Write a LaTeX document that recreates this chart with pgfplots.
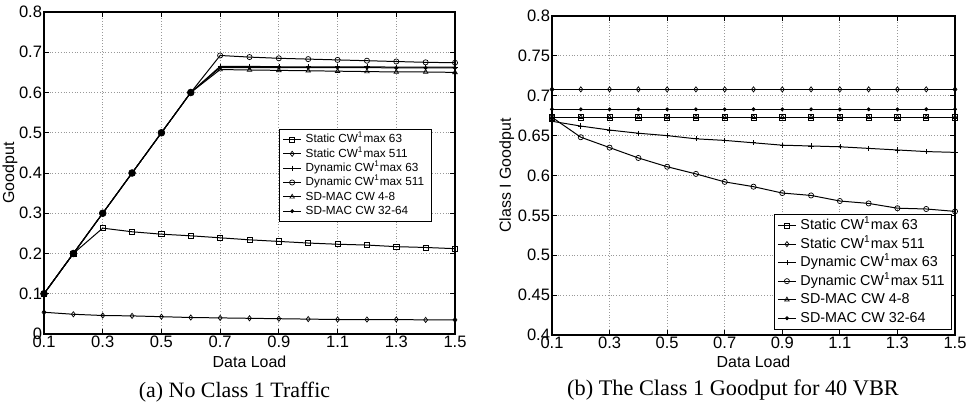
\documentclass[border=0pt]{standalone}
\usepackage{pgfplots}
\pgfplotsset{compat=1.18}
\usepackage{fontspec}
\setmainfont{Liberation Sans}
\newfontfamily\capfont{Liberation Serif}

\pgfplotsset{
  goodput/.style={
    scale only axis,
    xmin=0.1, xmax=1.5,
    xtick={0.1,0.3,0.5,0.7,0.9,1.1,1.3,1.5},
    xticklabels={0.1,0.3,0.5,0.7,0.9,1.1,1.3,1.5},
    grid=major,
    major grid style={densely dotted, gray!80, line width=0.4pt},
    tick align=inside,
    tick pos=both,
    major tick length=2.5pt,
    axis line style={line width=0.6pt},
    tick style={line width=0.4pt, black},
    ticklabel style={font=\fontsize{8.3}{9}\selectfont, inner sep=0.8pt},
    label style={font=\fontsize{8}{9}\selectfont},
    xlabel={Data Load},
    every axis plot/.append style={black, line width=0.5pt, mark size=1.3pt,
      mark options={solid, line width=0.35pt}},
    legend style={draw=black, fill=white, line width=0.5pt, inner sep=1.5pt},
    legend image code/.code={
      \draw[mark repeat=2, mark phase=2] plot coordinates {(0cm,0cm) (0.16cm,0cm) (0.32cm,0cm)};
    },
  }
}

\begin{document}
\begin{tikzpicture}
\path[use as bounding box] (-22bp,-35.5bp) rectangle (463.5bp,167bp);

% (a) ohne Klasse-1-Verkehr
\begin{axis}[
    goodput,
    at={(0,0)}, anchor=south west,
    width=205.5bp, height=161bp,
    ymin=0, ymax=0.8,
    ytick={0,0.1,0.2,0.3,0.4,0.5,0.6,0.7,0.8},
    yticklabels={0,0.1,0.2,0.3,0.4,0.5,0.6,0.7,0.8},
    ylabel={Goodput},
    ylabel style={at={(axis description cs:-0.083,0.5)}, anchor=center},
    xlabel style={at={(axis description cs:0.5,-0.087)}, anchor=center},
    legend style={at={(0.572,0.637)}, anchor=north west,
      font=\fontsize{5.9}{6}\selectfont, row sep=0.1pt,
      nodes={inner ysep=0.3pt, text height=5pt, text depth=1.5pt},
      cells={anchor=west}},
]
\addplot[mark=square] coordinates {
  (0.1,0.100) (0.2,0.200) (0.3,0.263) (0.4,0.254) (0.5,0.248) (0.6,0.244) (0.7,0.239) (0.8,0.234)
  (0.9,0.230) (1.0,0.226) (1.1,0.223) (1.2,0.221) (1.3,0.217) (1.4,0.215) (1.5,0.212)};
\addlegendentry{Static CW\textsuperscript{1}max 63}
\addplot[mark=diamond] coordinates {
  (0.1,0.054) (0.2,0.049) (0.3,0.046) (0.4,0.045) (0.5,0.043) (0.6,0.041) (0.7,0.040) (0.8,0.039)
  (0.9,0.038) (1.0,0.037) (1.1,0.036) (1.2,0.036) (1.3,0.036) (1.4,0.035) (1.5,0.035)};
\addlegendentry{Static CW\textsuperscript{1}max 511}
\addplot[mark=+] coordinates {
  (0.1,0.1) (0.2,0.2) (0.3,0.3) (0.4,0.4) (0.5,0.5) (0.6,0.6) (0.7,0.665) (0.8,0.665)
  (0.9,0.664) (1.0,0.664) (1.1,0.664) (1.2,0.664) (1.3,0.663) (1.4,0.663) (1.5,0.663)};
\addlegendentry{Dynamic CW\textsuperscript{1}max 63}
\addplot[mark=o] coordinates {
  (0.1,0.1) (0.2,0.2) (0.3,0.3) (0.4,0.4) (0.5,0.5) (0.6,0.6) (0.7,0.692) (0.8,0.688)
  (0.9,0.685) (1.0,0.683) (1.1,0.681) (1.2,0.679) (1.3,0.677) (1.4,0.675) (1.5,0.674)};
\addlegendentry{Dynamic CW\textsuperscript{1}max 511}
\addplot[mark=triangle] coordinates {
  (0.1,0.1) (0.2,0.2) (0.3,0.3) (0.4,0.4) (0.5,0.5) (0.6,0.6) (0.7,0.657) (0.8,0.656)
  (0.9,0.655) (1.0,0.654) (1.1,0.653) (1.2,0.652) (1.3,0.651) (1.4,0.651) (1.5,0.650)};
\addlegendentry{SD-MAC CW 4-8}
\addplot[mark=*, mark size=0.8pt] coordinates {
  (0.1,0.1) (0.2,0.2) (0.3,0.3) (0.4,0.4) (0.5,0.5) (0.6,0.6) (0.7,0.662) (0.8,0.662)
  (0.9,0.662) (1.0,0.662) (1.1,0.662) (1.2,0.662) (1.3,0.661) (1.4,0.661) (1.5,0.661)};
\addlegendentry{SD-MAC CW 32-64}
% die ueberlagerten Punkte im Anstieg erscheinen im Original schwarz gefuellt
\addplot[only marks, mark=*, mark size=1.7pt, forget plot] coordinates {
  (0.1,0.1) (0.2,0.2) (0.3,0.3) (0.4,0.4) (0.5,0.5) (0.6,0.6)};
\end{axis}

% (b) Klasse-1-Goodput bei 40 VBR
\begin{axis}[
    goodput,
    at={(254bp,-0.5bp)}, anchor=south west,
    width=201.5bp, height=159.5bp,
    ymin=0.4, ymax=0.8,
    ytick={0.4,0.45,0.5,0.55,0.6,0.65,0.7,0.75,0.8},
    yticklabels={0.4,0.45,0.5,0.55,0.6,0.65,0.7,0.75,0.8},
    ylabel={Class I Goodput},
    ylabel style={at={(axis description cs:-0.112,0.5)}, anchor=center},
    xlabel style={at={(axis description cs:0.5,-0.084)}, anchor=center},
    legend style={at={(0.993,0.016)}, anchor=south east,
      font=\fontsize{7.2}{7}\selectfont, row sep=1.1pt,
      nodes={inner ysep=0.3pt, text height=5.8pt, text depth=1.8pt},
      cells={anchor=west}},
]
\addplot[mark=square] coordinates {
  (0.1,0.673) (0.2,0.673) (0.3,0.673) (0.4,0.673) (0.5,0.673) (0.6,0.673) (0.7,0.673) (0.8,0.673)
  (0.9,0.673) (1.0,0.673) (1.1,0.673) (1.2,0.673) (1.3,0.673) (1.4,0.673) (1.5,0.673)};
\addlegendentry{Static CW\textsuperscript{1}max 63}
\addplot[mark=diamond] coordinates {
  (0.1,0.708) (0.2,0.708) (0.3,0.708) (0.4,0.708) (0.5,0.708) (0.6,0.708) (0.7,0.708) (0.8,0.708)
  (0.9,0.708) (1.0,0.708) (1.1,0.708) (1.2,0.708) (1.3,0.708) (1.4,0.708) (1.5,0.708)};
\addlegendentry{Static CW\textsuperscript{1}max 511}
\addplot[mark=+] coordinates {
  (0.1,0.668) (0.2,0.662) (0.3,0.657) (0.4,0.653) (0.5,0.650) (0.6,0.646) (0.7,0.644) (0.8,0.641)
  (0.9,0.638) (1.0,0.637) (1.1,0.636) (1.2,0.634) (1.3,0.632) (1.4,0.630) (1.5,0.629)};
\addlegendentry{Dynamic CW\textsuperscript{1}max 63}
\addplot[mark=o] coordinates {
  (0.1,0.673) (0.2,0.648) (0.3,0.635) (0.4,0.622) (0.5,0.611) (0.6,0.602) (0.7,0.592) (0.8,0.586)
  (0.9,0.578) (1.0,0.575) (1.1,0.568) (1.2,0.565) (1.3,0.559) (1.4,0.558) (1.5,0.555)};
\addlegendentry{Dynamic CW\textsuperscript{1}max 511}
\addplot[mark=triangle] coordinates {
  (0.1,0.673) (0.2,0.673) (0.3,0.673) (0.4,0.673) (0.5,0.673) (0.6,0.673) (0.7,0.673) (0.8,0.673)
  (0.9,0.673) (1.0,0.673) (1.1,0.673) (1.2,0.673) (1.3,0.673) (1.4,0.673) (1.5,0.673)};
\addlegendentry{SD-MAC CW 4-8}
\addplot[mark=*, mark size=0.8pt] coordinates {
  (0.1,0.683) (0.2,0.683) (0.3,0.683) (0.4,0.683) (0.5,0.683) (0.6,0.683) (0.7,0.683) (0.8,0.683)
  (0.9,0.683) (1.0,0.683) (1.1,0.683) (1.2,0.683) (1.3,0.683) (1.4,0.683) (1.5,0.683)};
\addlegendentry{SD-MAC CW 32-64}
\end{axis}

\node[font=\capfont\fontsize{11}{13}\selectfont] at (95.25bp,-29bp) {(a) No Class 1 Traffic};
\node[font=\capfont\fontsize{11.2}{13}\selectfont] at (344.5bp,-28bp) {(b) The Class 1 Goodput for 40 VBR};
\end{tikzpicture}
\end{document}
